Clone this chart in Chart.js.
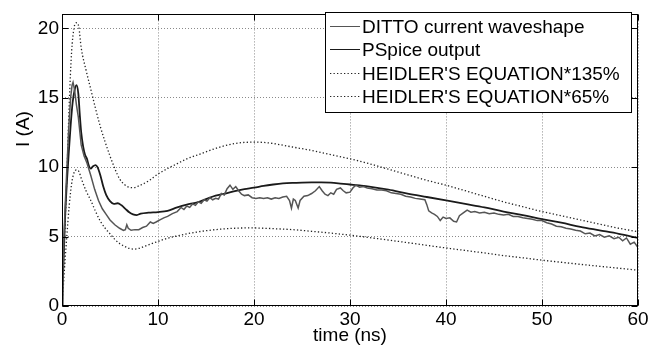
<!DOCTYPE html>
<html>
<head>
<meta charset="utf-8">
<script src="https://cdn.jsdelivr.net/npm/chart.js@4"></script>
<style>
  html, body { margin: 0; padding: 0; background: #ffffff; }
  #wrap { width: 666px; height: 357px; }
</style>
</head>
<body>
<div id="wrap"><canvas id="c" width="666" height="357"></canvas></div>
<script>
// ---- data ----
const xTicks = [0, 10, 20, 30, 40, 50, 60];
const yTicks = [0, 5, 10, 15, 20];
const xTitle = 'time (ns)';
const yTitle = 'I (A)';
const seriesNames = ['DITTO current waveshape', 'PSpice output', "HEIDLER'S EQUATION*135%", "HEIDLER'S EQUATION*65%"];

const dittoT = [0,0.1,0.2,0.35,0.5,0.7,0.9,1.05,1.15,1.3,1.5,1.7,2.0,2.3,2.6,3.0,3.4,3.8,4.2,4.6,5.0,5.5,6.0,6.4,6.6,6.75,6.9,7.2,7.6,8.0,8.4,8.8,9.2,9.5,9.8,10.2,10.6,11.0,11.5,12.0,12.4,12.7,13.0,13.3,13.6,13.9,14.2,14.5,14.8,15.1,15.4,15.7,16.0,16.3,16.6,16.9,17.2,17.5,17.8,18.1,18.4,18.7,19.0,19.4,19.8,20.2,20.6,21.0,21.4,21.8,22.2,22.6,23.0,23.4,23.7,23.9,24.1,24.3,24.6,24.8,25.2,25.6,26.0,26.4,26.8,27.1,27.4,27.7,28.0,28.3,28.6,29.0,29.3,29.6,30.0,30.3,30.6,31.0,31.4,31.8,32.3,32.8,33.3,33.8,34.3,34.8,35.3,35.8,36.3,36.8,37.3,37.8,38.0,38.2,38.5,38.8,39.1,39.4,39.7,40.0,40.4,40.8,41.1,41.4,41.8,42.2,42.6,43.0,43.5,44.0,44.5,45.0,45.5,46.0,46.5,47.0,47.5,48.0,48.5,49.0,49.5,50.0,50.5,51.0,51.5,52.0,52.5,53.0,53.5,54.0,54.5,55.0,55.5,56.0,56.5,57.0,57.5,58.0,58.4,58.8,59.2,59.6,60.0];
const dittoI = [0,2.5,5.0,7.5,9.8,12.8,15.0,15.9,16.1,15.6,14.5,13.6,11.6,10.8,10.3,9.4,8.4,7.6,7.0,6.6,6.2,5.85,5.6,5.45,5.5,5.85,5.6,5.45,5.5,5.5,5.65,5.75,6.05,5.95,6.05,6.2,6.35,6.45,6.65,6.8,7.1,6.95,7.2,7.1,7.35,7.25,7.5,7.4,7.65,7.55,7.8,7.65,7.75,7.7,8.1,8.0,8.45,8.7,8.4,8.6,8.3,8.05,7.95,8.0,7.8,7.75,7.8,7.75,7.8,7.7,7.8,7.75,7.85,7.9,7.6,7.05,7.7,7.6,7.05,7.6,7.9,7.95,8.1,8.3,8.6,8.3,8.05,7.95,8.15,8.05,8.4,8.5,8.3,8.15,8.2,8.5,8.7,8.55,8.6,8.5,8.45,8.35,8.35,8.3,8.15,8.1,8.05,7.9,7.85,7.75,7.7,7.65,7.3,6.85,6.7,6.6,6.45,6.15,6.4,6.3,6.35,6.1,6.05,6.5,6.7,6.9,6.75,6.8,6.7,6.75,6.65,6.7,6.6,6.55,6.6,6.45,6.45,6.35,6.3,6.25,6.15,6.15,6.0,5.9,5.75,5.7,5.6,5.55,5.45,5.4,5.2,5.25,5.05,5.15,4.95,5.05,4.85,4.95,4.7,4.9,4.45,4.6,4.2];

const pspiceT = [0,0.15,0.3,0.5,0.7,0.9,1.1,1.3,1.5,1.7,1.85,2.0,2.2,2.4,2.6,2.8,3.0,3.2,3.5,3.7,4.0,4.3,4.6,5.0,5.4,5.8,6.2,6.6,7.0,7.4,7.8,8.2,9,10,11,12,13,14,15,16,17,18,19,20,21,22,23,24,25,26,27,28,29,30,31,32,34,36,38,40,42,44,46,48,50,52,54,56,58,60];
const pspiceI = [0,3,6,8.8,11,13,14.6,15.5,15.9,15.3,13.8,12.5,11.5,10.9,10.6,10.1,9.9,10.05,10.15,10.0,9.4,8.6,8.0,7.55,7.35,7.4,7.25,7.0,6.75,6.6,6.55,6.65,6.72,6.76,6.85,7.1,7.3,7.45,7.7,7.95,8.1,8.28,8.42,8.52,8.65,8.75,8.83,8.87,8.89,8.9,8.9,8.88,8.82,8.75,8.68,8.6,8.38,8.1,7.85,7.6,7.35,7.1,6.8,6.55,6.25,6.0,5.7,5.45,5.2,4.9];

const heidlerT = [0,0.25,0.5,0.75,1,1.25,1.5,1.75,2,2.5,3,3.5,4,4.5,5,5.5,6,6.5,7,7.5,8,9,10,11,12,13,14,15,16,17,18,19,20,21,22,24,26,28,30,32,34,36,38,40,42,44,46,48,50,52,54,56,58,60];
const heidler135 = [0,4.5,9.2,14.5,18.3,20.0,20.4,20.1,18.6,17.0,15.6,14.2,12.9,11.8,10.8,9.9,9.15,8.75,8.55,8.52,8.65,9.0,9.5,9.9,10.25,10.6,10.85,11.1,11.35,11.55,11.7,11.78,11.8,11.78,11.7,11.45,11.2,10.9,10.6,10.25,9.85,9.45,9.05,8.7,8.3,7.9,7.5,7.15,6.8,6.5,6.2,5.9,5.6,5.35];
const heidler65 = [0,2.6,5.0,7.2,8.8,9.6,9.8,9.7,9.2,8.3,7.6,6.8,6.1,5.6,5.2,4.8,4.5,4.3,4.15,4.1,4.15,4.4,4.65,4.88,5.05,5.2,5.32,5.42,5.5,5.56,5.6,5.62,5.62,5.6,5.57,5.5,5.38,5.25,5.1,4.93,4.75,4.56,4.37,4.18,4.0,3.82,3.63,3.47,3.3,3.15,3.0,2.86,2.72,2.58];

const pts = (t, v) => t.map((x, i) => ({ x: x, y: v[i] }));
const FONT = 'Liberation Sans, Arial, Helvetica, sans-serif';

const overlay = {
  id: 'overlay',
  afterDraw(chart) {
    const ctx = chart.ctx;
    const a = chart.chartArea;
    const xs = chart.scales.x, ys = chart.scales.y;
    ctx.save();
    // frame
    ctx.strokeStyle = '#000';
    ctx.lineWidth = 1;
    ctx.setLineDash([]);
    const L = Math.round(a.left) + 0.5, R = Math.round(a.right) - 0.5;
    const T = Math.round(a.top) + 0.5, B = Math.round(a.bottom) - 0.5;
    ctx.strokeRect(L, T, R - L, B - T);
    // inward ticks
    ctx.beginPath();
    xs.ticks.forEach(tk => {
      const px = Math.round(xs.getPixelForValue(tk.value)) + 0.5;
      ctx.moveTo(px, B); ctx.lineTo(px, B - 6);
      ctx.moveTo(px, T); ctx.lineTo(px, T + 6);
    });
    ys.ticks.forEach(tk => {
      const py = Math.round(ys.getPixelForValue(tk.value)) + 0.5;
      ctx.moveTo(L, py); ctx.lineTo(L + 6, py);
      ctx.moveTo(R, py); ctx.lineTo(R - 6, py);
    });
    ctx.stroke();

    // legend box
    const bx = 325.5, by = 12.5, bw = 306, bh = 100;
    ctx.fillStyle = '#fff';
    ctx.fillRect(bx, by, bw, bh);
    ctx.strokeRect(bx, by, bw, bh);
    ctx.font = '19px ' + FONT;
    ctx.textBaseline = 'middle';
    ctx.textAlign = 'left';
    chart.data.datasets.forEach((ds, i) => {
      const cy = Math.round(25.5 + i * 23.5) + 0.5;
      ctx.beginPath();
      ctx.strokeStyle = ds.borderColor;
      ctx.lineWidth = 1;
      ctx.setLineDash(ds.borderDash || []);
      ctx.moveTo(330, cy); ctx.lineTo(360, cy);
      ctx.stroke();
      ctx.setLineDash([]);
      ctx.fillStyle = '#000';
      ctx.fillText(ds.label, 362, cy + 1);
    });

    // y-axis title
    ctx.translate(24, 129);
    ctx.rotate(-Math.PI / 2);
    ctx.textAlign = 'center';
    ctx.textBaseline = 'middle';
    ctx.fillStyle = '#000';
    ctx.fillText(yTitle, 0, 0);
    ctx.restore();
  }
};

new Chart(document.getElementById('c'), {
  type: 'line',
  data: {
    datasets: [
      { label: seriesNames[0], data: pts(dittoT, dittoI), borderColor: '#555555', borderWidth: 1.5, pointRadius: 0, tension: 0 },
      { label: seriesNames[1], data: pts(pspiceT, pspiceI), borderColor: '#1a1a1a', borderWidth: 1.8, pointRadius: 0, cubicInterpolationMode: 'monotone' },
      { label: seriesNames[2], data: pts(heidlerT, heidler135), borderColor: '#222222', borderWidth: 1.3, borderDash: [1.3, 2.2], pointRadius: 0, cubicInterpolationMode: 'monotone' },
      { label: seriesNames[3], data: pts(heidlerT, heidler65), borderColor: '#222222', borderWidth: 1.3, borderDash: [1.3, 2.2], pointRadius: 0, cubicInterpolationMode: 'monotone' }
    ]
  },
  options: {
    responsive: false,
    animation: false,
    devicePixelRatio: 1,
    layout: { padding: { top: 7, right: 28, left: 0, bottom: 0 } },
    plugins: { legend: { display: false }, tooltip: { enabled: false } },
    scales: {
      x: {
        type: 'linear', min: 0, max: 60,
        afterBuildTicks: s => { s.ticks = xTicks.map(v => ({ value: v })); },
        afterFit: s => { s.height = 51; },
        grid: { color: '#8a8a8a', lineWidth: 1, drawTicks: false },
        border: { display: false, dash: [1, 2] },
        ticks: { color: '#000', padding: 2, maxRotation: 0, font: { family: FONT, size: 19 } },
        title: { display: true, text: xTitle, color: '#000', padding: { top: 0, bottom: 10 }, font: { family: FONT, size: 19 } }
      },
      y: {
        type: 'linear', min: 0, max: 21,
        afterBuildTicks: s => { s.ticks = yTicks.map(v => ({ value: v })); },
        afterFit: s => { s.width = 62; },
        grid: { color: '#8a8a8a', lineWidth: 1, drawTicks: false },
        border: { display: false, dash: [1, 2] },
        ticks: { color: '#000', padding: 3, font: { family: FONT, size: 19 } }
      }
    }
  },
  plugins: [overlay]
});
</script>
</body>
</html>
